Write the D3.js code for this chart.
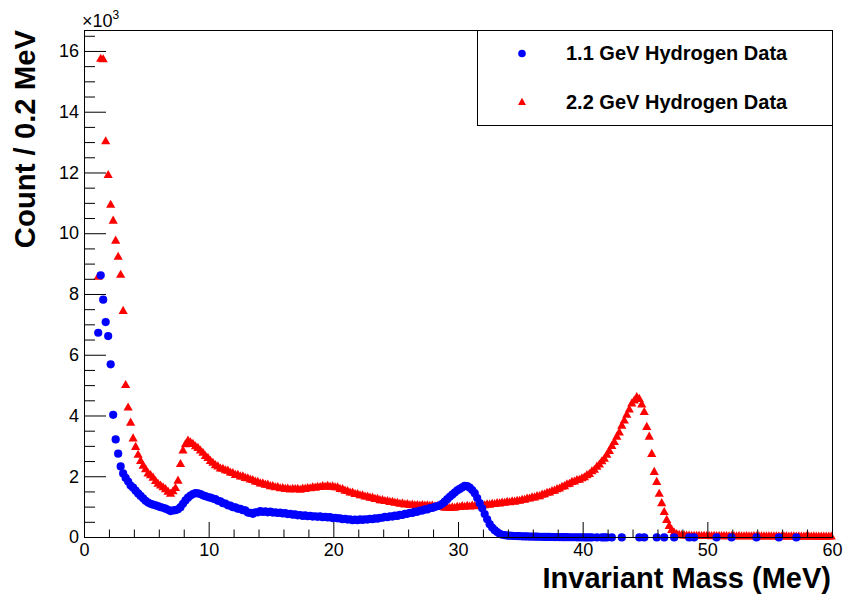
<!DOCTYPE html>
<html><head><meta charset="utf-8">
<script src="https://cdn.jsdelivr.net/npm/d3@7"></script>
<style>body{margin:0;background:#fff}svg{display:block}</style>
</head><body><svg id="c" width="845" height="599"></svg>
<script>
// Histogram: 0.2 MeV bins, first non-empty bin centred at 1.1 MeV
const binFirst = 1.1, binWidth = 0.2;
const seriesNames = ["1.1 GeV Hydrogen Data", "2.2 GeV Hydrogen Data"];
// counts per bin (null = empty bin, not drawn)
const blueCounts = [
 6740, 8630, 7830, 7090, 6630,
 5700, 4040, 3230, 2760, 2340,
 2110, 1960, 1840, 1710, 1640,
 1540, 1450, 1370, 1290, 1210,
 1150, 1110, 1080, 1060, 1030,
 1000, 980, 950, 910, 870,
 890, 900, 930, 1000, 1110,
 1220, 1310, 1380, 1430, 1460,
 1450, 1430, 1390, 1360, 1330,
 1310, 1280, 1260, 1210, 1190,
 1130, 1120, 1060, 1050, 1000,
 990, 950, 940, 900, 890,
 820, 810, 780, 830, 830,
 870, 840, 860, 830, 850,
 820, 830, 810, 820, 790,
 800, 770, 780, 750, 760,
 730, 740, 710, 730, 700,
 710, 690, 700, 680, 700,
 670, 680, 660, 670, 640,
 650, 630, 630, 600, 610,
 590, 600, 570, 590, 570,
 600, 580, 600, 590, 610,
 600, 630, 620, 650, 650,
 680, 670, 700, 690, 720,
 710, 745, 740, 780, 780,
 815, 810, 850, 845, 885,
 885, 925, 925, 970, 975,
 1010, 1030, 1060, 1110, 1180,
 1260, 1340, 1410, 1480, 1550,
 1600, 1650, 1700, 1690, 1640,
 1560, 1460, 1300, 1130, 960,
 770, 600, 440, 330, 240,
 180, 120, 90, 75, 65,
 60, 55, 50, 46, 42,
 40, 37, 35, 32, 30,
 28, 26, 24, 22, 20,
 19, 18, 16, 15, 14,
 13, 12, 11, 10, 9,
 8, 8, 7, 6, 5,
 4, 4, 3, 3, null,
 2, null, 2, 2, 2,
 null, 1, null, null, null,
 1, null, null, null, null,
 null, null, 1, null, 1,
 null, null, null, null, 1,
 null, null, 1, null, null,
 null, 1, null, null, null,
 null, null, 1, null, 1,
 null, null, null, null, null,
 null, null, null, 1, null,
 null, null, null, null, 1,
 null, null, null, null, null,
 null, null, null, null, 1,
 null, null, null, null, null,
 null, null, null, 1, null,
 null, null, null, null, null,
 1, null, null, null, null,
 null, null, null, null, null,
 null, null, null, null, null
];
const redCounts = [
 8590, 15770, 15750, 13050, 11940,
 10960, 10440, 9780, 9250, 8660,
 7470, 5030, 4290, 3790, 3270,
 2990, 2730, 2530, 2370, 2260,
 2120, 2060, 1980, 1870, 1780,
 1720, 1660, 1600, 1520, 1450,
 1530, 1640, 1880, 2430, 2870,
 3080, 3200, 3140, 3090, 3010,
 2960, 2870, 2800, 2690, 2630,
 2530, 2470, 2390, 2350, 2280,
 2270, 2220, 2210, 2150, 2130,
 2070, 2070, 2020, 2020, 1970,
 1960, 1920, 1900, 1850, 1840,
 1790, 1790, 1750, 1750, 1700,
 1700, 1660, 1670, 1630, 1640,
 1610, 1620, 1590, 1610, 1600,
 1610, 1580, 1620, 1610, 1640,
 1630, 1660, 1650, 1680, 1670,
 1700, 1680, 1710, 1680, 1690,
 1660, 1660, 1610, 1600, 1550,
 1540, 1490, 1490, 1440, 1440,
 1400, 1400, 1360, 1360, 1320,
 1320, 1280, 1280, 1240, 1240,
 1210, 1210, 1180, 1180, 1150,
 1150, 1120, 1130, 1100, 1110,
 1080, 1090, 1070, 1080, 1060,
 1080, 1060, 1070, 1050, 1060,
 1030, 1040, 1010, 1020, 990,
 1000, 980, 1000, 990, 1020,
 1010, 1040, 1020, 1050, 1030,
 1060, 1040, 1070, 1060, 1080,
 1070, 1100, 1090, 1120, 1110,
 1140, 1130, 1160, 1150, 1180,
 1170, 1200, 1190, 1220, 1220,
 1250, 1250, 1290, 1290, 1330,
 1330, 1370, 1370, 1420, 1430,
 1480, 1490, 1540, 1550, 1600,
 1620, 1680, 1700, 1760, 1780,
 1840, 1850, 1900, 1910, 1960,
 1990, 2060, 2100, 2190, 2240,
 2340, 2410, 2520, 2600, 2730,
 2860, 3020, 3150, 3330, 3470,
 3690, 3860, 4050, 4220, 4420,
 4520, 4630, 4570, 4390, 4140,
 3650, 3330, 2760, 2170, 1840,
 1450, 1140, 850, 590, 390,
 260, 170, 120, 100, 85,
 78, 72, 70, 66, 64,
 62, 66, 58, 61, 57,
 60, 55, 63, 54, 58,
 52, 57, 55, 50, 56,
 53, 49, 55, 51, 48,
 52, 50, 47, 53, 49,
 46, 51, 48, 45, 50,
 47, 44, 49, 46, 43,
 48, 45, 42, 47, 44,
 41, 46, 43, 40, 45,
 42, 39, 44, 41, 38,
 43, 40, 37, 42, 39
];
const xTicks = [0, 10, 20, 30, 40, 50, 60];
const xMinorTicks = [2, 4, 6, 8, 12, 14, 16, 18, 22, 24, 26, 28, 32, 34, 36, 38, 42, 44, 46, 48, 52, 54, 56, 58];
const yTicks = [0, 2000, 4000, 6000, 8000, 10000, 12000, 14000, 16000];
const yTickLabels = ["0", "2", "4", "6", "8", "10", "12", "14", "16"];
const yMinorTicks = [500, 1000, 1500, 2500, 3000, 3500, 4500, 5000, 5500, 6500, 7000, 7500,
  8500, 9000, 9500, 10500, 11000, 11500, 12500, 13000, 13500, 14500, 15000, 15500, 16500];
const xTitle = "Invariant Mass (MeV)";
const yTitle = "Count / 0.2 MeV";
const colors = ["#0000ff", "#ff0000"];

const font = "'Liberation Sans', Arial, Helvetica, sans-serif";
const svg = d3.select("#c");
const x = d3.scaleLinear().domain([0, 60]).range([84, 832]);
const y = d3.scaleLinear().domain([0, 16690]).range([537, 30]);

const binCenter = i => +(binFirst + i * binWidth).toFixed(1);
const blue = blueCounts.map((v, i) => ({x: binCenter(i), v})).filter(d => d.v != null);
const red = redCounts.map((v, i) => ({x: binCenter(i), v})).filter(d => d.v != null);

const triPath = "M0,-4.8L4.6,3.3L-4.6,3.3Z";

// data markers: red first, blue on top
svg.append("g").selectAll("path").data(red).join("path")
  .attr("d", triPath)
  .attr("transform", d => `translate(${x(d.x) + 0.5},${y(d.v) + 0.5})`)
  .attr("fill", colors[1]);
svg.append("g").selectAll("circle").data(blue).join("circle")
  .attr("cx", d => x(d.x) + 0.5).attr("cy", d => y(d.v) + 0.5)
  .attr("r", 4.1).attr("fill", colors[0]);

// axes
const xg = svg.append("g").attr("transform", "translate(0,537)");
xg.call(d3.axisBottom(x).tickValues(xMinorTicks).tickSize(-7.5).tickFormat(""));
xg.append("g").call(d3.axisBottom(x).tickValues(xTicks).tickSize(-15).tickPadding(6).tickFormat(d3.format("d")));
const yg = svg.append("g").attr("transform", "translate(84,0)");
yg.call(d3.axisLeft(y).tickValues(yMinorTicks).tickSize(-11).tickFormat(""));
yg.append("g").call(d3.axisLeft(y).tickValues(yTicks).tickSize(-22).tickPadding(5)
  .tickFormat((d, i) => yTickLabels[i]));
svg.selectAll(".domain").remove();
svg.selectAll(".tick line").attr("stroke", "#000");
svg.selectAll(".tick text").attr("font-family", font).attr("font-size", 18).attr("fill", "#000");

// frame
svg.append("rect").attr("x", 84.5).attr("y", 30.5).attr("width", 748).attr("height", 507)
  .attr("fill", "none").attr("stroke", "#000").attr("stroke-width", 1);

// exponent
const ex = svg.append("text").attr("x", 82).attr("y", 27).attr("font-family", font)
  .attr("font-size", 18).attr("fill", "#000");
ex.append("tspan").text("\u00d710");
ex.append("tspan").attr("dy", -8).attr("font-size", 12).text("3");

// titles
svg.append("text").attr("x", 831).attr("y", 588).attr("text-anchor", "end")
  .attr("font-family", font).attr("font-weight", "bold").attr("font-size", 29).text(xTitle);
svg.append("text").attr("transform", "translate(35,30) rotate(-90)").attr("text-anchor", "end")
  .attr("font-family", font).attr("font-weight", "bold").attr("font-size", 29.3).text(yTitle);

// legend
const lg = svg.append("g");
lg.append("rect").attr("x", 477.5).attr("y", 30.5).attr("width", 355).attr("height", 95)
  .attr("fill", "#fff").attr("stroke", "#000");
const rows = [53.5, 102];
lg.append("circle").attr("cx", 522).attr("cy", rows[0]).attr("r", 3.8).attr("fill", colors[0]);
lg.append("path").attr("d", "M0,-4.2L4,2.9L-4,2.9Z").attr("transform", `translate(522,${rows[1]})`).attr("fill", colors[1]);
seriesNames.forEach((s, i) => {
  lg.append("text").attr("x", 566).attr("y", rows[i] + 6.8).attr("font-family", font)
    .attr("font-weight", "bold").attr("font-size", 20).attr("fill", "#000").text(s);
});
</script>
</body></html>
